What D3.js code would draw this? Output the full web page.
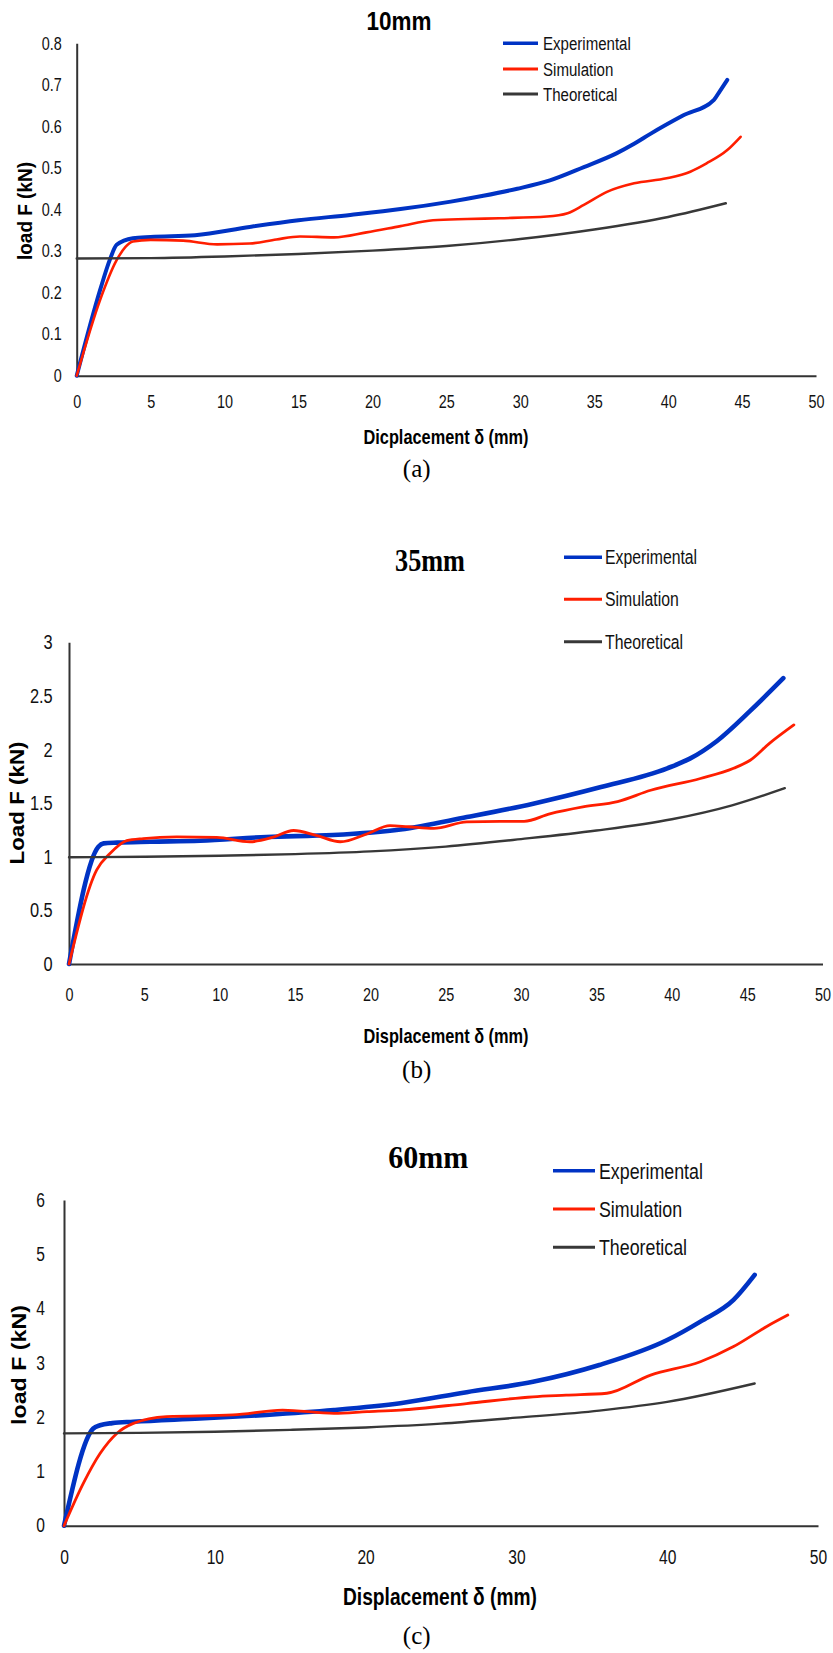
<!doctype html>
<html>
<head>
<meta charset="utf-8">
<script src="https://d3js.org/d3.v7.min.js"></script>
<style>
  body { margin: 0; background: #fff; }
</style>
</head>
<body>
<script>
// ---- data: [displacement mm, load kN] ----
var expA = [[0,0],[1.58,0.206],[2.25,0.28],[2.7,0.315],[3.8,0.331],[5,0.334],[8,0.338],[11.7,0.358],[15,0.374],[18.5,0.387],[21.9,0.401],[25.3,0.419],[27.5,0.433],[29.8,0.45],[32,0.47],[34.3,0.502],[36.5,0.535],[37.7,0.558],[38.8,0.582],[41,0.626],[43.1,0.664],[43.5,0.685],[44,0.712]];
var simA = [[0,0],[1.58,0.182],[2.7,0.278],[3.3,0.31],[3.8,0.323],[5,0.327],[7.2,0.325],[9.5,0.316],[11.7,0.318],[13.5,0.328],[15.1,0.335],[17.4,0.333],[19.6,0.345],[21.9,0.36],[24.1,0.374],[26.4,0.377],[28.6,0.379],[31.8,0.383],[33.2,0.391],[34.3,0.411],[35.9,0.443],[37.7,0.463],[39.9,0.475],[41.5,0.491],[42.6,0.511],[44,0.543],[44.9,0.575]];
var theoA = [[0,0.282],[5,0.283],[10,0.287],[15,0.293],[20,0.301],[25,0.312],[30,0.329],[35,0.352],[40,0.382],[43.9,0.415]];

var expB = [[0,0],[1.95,1.094],[2.3,1.125],[3.2,1.132],[5.4,1.14],[8.7,1.15],[13.1,1.185],[17.5,1.203],[22,1.255],[26.4,1.37],[30.8,1.495],[35.3,1.65],[39.7,1.825],[41.2,1.915],[43,2.08],[45.2,2.36],[47.4,2.665]];
var simB = [[0,0],[1.84,0.877],[2.72,1.03],[3.83,1.15],[4.93,1.17],[7.15,1.185],[9.8,1.18],[12,1.14],[13.5,1.18],[14.9,1.245],[16.4,1.2],[18,1.14],[19.8,1.215],[21.3,1.29],[22.5,1.28],[24.2,1.265],[26.4,1.325],[28.6,1.33],[30.2,1.33],[31.9,1.4],[34.1,1.465],[36.4,1.515],[38.6,1.62],[41.9,1.73],[44.1,1.825],[45.2,1.9],[46.5,2.06],[48.1,2.23]];
var theoB = [[0,0.995],[5,1],[10,1.01],[15,1.025],[20,1.05],[25,1.095],[30,1.165],[35,1.245],[40,1.35],[44,1.48],[47.5,1.64]];

var expC = [[0,0],[1.94,1.79],[2.39,1.85],[3.2,1.89],[4.6,1.915],[9,1.975],[13.4,2.04],[17.9,2.13],[22.3,2.255],[26.7,2.46],[31.1,2.65],[35.5,2.96],[40,3.42],[42.2,3.76],[44.4,4.16],[45.8,4.62]];
var simC = [[0,0],[1.28,0.78],[2.39,1.33],[3.5,1.7],[4.6,1.885],[6.8,2.01],[11.2,2.04],[14.5,2.13],[17.9,2.07],[20.1,2.1],[22.3,2.13],[26.7,2.25],[31.1,2.375],[33.3,2.405],[36,2.44],[38.9,2.775],[42.2,3.02],[44.4,3.3],[46.6,3.67],[48,3.88]];
var theoC = [[0,1.7],[5,1.71],[10,1.73],[15,1.765],[20,1.81],[25,1.88],[30,1.99],[35.5,2.12],[40,2.28],[45.8,2.62]];

var seriesNames = ["Experimental", "Simulation", "Theoretical"];
var xTicks5 = [0,5,10,15,20,25,30,35,40,45,50];
var xTicks10 = [0,10,20,30,40,50];
var yTicksA = [0,0.1,0.2,0.3,0.4,0.5,0.6,0.7,0.8];
var yTicksB = [0,0.5,1,1.5,2,2.5,3];
var yTicksC = [0,1,2,3,4,5,6];

var SANS = "'Liberation Sans', Arial, sans-serif";
var SERIF = "'Liberation Serif', 'Times New Roman', serif";
var colors = ["#0033c4", "#ff1e00", "#383838"];

var svg = d3.select("body").append("svg").attr("width", 833).attr("height", 1653);
svg.append("rect").attr("width", 833).attr("height", 1653).attr("fill", "#fff");

// picture is stretched vertically, so text gets squeezed sideways
function squeeze(sel, sx) {
	sel.each(function() {
		var t = d3.select(this);
		var x = +t.attr("x") || 0, y = +t.attr("y") || 0;
		t.attr("x", 0).attr("y", 0).attr("transform", "translate(" + x + "," + y + ") scale(" + sx + ",1)");
	});
}

var panels = [
	{ exp: expA, sim: simA, theo: theoA, ymax: 0.8, yticks: yTicksA, xticks: xTicks5, widths: [4, 2.6, 2.4],
	  x0: 76.7, x1: 816, y0: 375.7, y1: 43.3, xfs: 18, xpad: 19.6, yfs: 18, ypad: 15,
	  title: "10mm", tfont: SANS, tfs: 25, tx: 399, ty: 30, tlen: 65,
	  ylab: "load F (kN)", ylx: 31.5, yly: 211, ylfs: 20, yllen: 98,
	  xlab: "Dicplacement δ (mm)", xlx: 446, xly: 443.7, xlfs: 19.5, xllen: 165,
	  cap: "(a)", capy: 476.5,
	  lgx0: 503, lgx1: 538, lgtx: 543, lgy: [43.3, 69, 94], lgfs: 18.6 },
	{ exp: expB, sim: simB, theo: theoB, ymax: 3, yticks: yTicksB, xticks: xTicks5, widths: [4.6, 2.8, 2.4],
	  x0: 69, x1: 822.5, y0: 964, y1: 642.3, xfs: 18, xpad: 24.6, yfs: 20.5, ypad: 16.3,
	  title: "35mm", tfont: SERIF, tfs: 31, tx: 430, ty: 570.5, tlen: 70,
	  ylab: "Load F (kN)", ylx: 23.5, yly: 803, ylfs: 20, yllen: 123,
	  xlab: "Displacement δ (mm)", xlx: 446, xly: 1042.6, xlfs: 21, xllen: 165,
	  cap: "(b)", capy: 1078,
	  lgx0: 564, lgx1: 602, lgtx: 605, lgy: [557.3, 599.3, 641.7], lgfs: 19.5 },
	{ exp: expC, sim: simC, theo: theoC, ymax: 6, yticks: yTicksC, xticks: xTicks10, widths: [4.6, 2.8, 2.4],
	  x0: 64, x1: 818, y0: 1525.7, y1: 1200, xfs: 19.5, xpad: 24.2, yfs: 19.5, ypad: 19,
	  title: "60mm", tfont: SERIF, tfs: 31, tx: 428.3, ty: 1167.5, tlen: 80,
	  ylab: "load F (kN)", ylx: 25.6, yly: 1365, ylfs: 21, yllen: 120,
	  xlab: "Displacement δ (mm)", xlx: 440, xly: 1605, xlfs: 23, xllen: 194,
	  cap: "(c)", capy: 1644,
	  lgx0: 553, lgx1: 595, lgtx: 599, lgy: [1170.7, 1209, 1247.3], lgfs: 22 }
];

panels.forEach(function(p) {
	var x = d3.scaleLinear().domain([0, 50]).range([p.x0, p.x1]);
	var y = d3.scaleLinear().domain([0, p.ymax]).range([p.y0, p.y1]);
	var g = svg.append("g");

	var gx = g.append("g").attr("transform", "translate(0," + p.y0 + ")")
		.call(d3.axisBottom(x).tickValues(p.xticks).tickSize(0).tickSizeOuter(0).tickPadding(p.xpad).tickFormat(d3.format("~g")));
	gx.select(".domain").attr("stroke", "#333").attr("stroke-width", 2);
	gx.selectAll("text").attr("font-family", SANS).attr("font-size", p.xfs).attr("fill", "#111").call(squeeze, 0.8);

	var gy = g.append("g").attr("transform", "translate(" + p.x0 + ",0)")
		.call(d3.axisLeft(y).tickValues(p.yticks).tickSize(0).tickSizeOuter(0).tickPadding(p.ypad).tickFormat(d3.format("~g")));
	gy.select(".domain").attr("stroke", "#333").attr("stroke-width", 2);
	gy.selectAll("text").attr("font-family", SANS).attr("font-size", p.yfs).attr("fill", "#111").call(squeeze, 0.8);

	var line = d3.line().x(function(d) { return x(d[0]); }).y(function(d) { return y(d[1]); }).curve(d3.curveMonotoneX);
	[p.exp, p.sim, p.theo].forEach(function(s, i) {
		g.append("path").attr("d", line(s)).attr("fill", "none")
			.attr("stroke", colors[i]).attr("stroke-width", p.widths[i])
			.attr("stroke-linejoin", "round").attr("stroke-linecap", "round");
	});

	// title
	g.append("text").attr("x", p.tx).attr("y", p.ty).attr("text-anchor", "middle")
		.attr("font-family", p.tfont).attr("font-weight", "bold").attr("font-size", p.tfs)
		.attr("textLength", p.tlen).attr("lengthAdjust", "spacingAndGlyphs").text(p.title);

	// axis titles
	g.append("text").attr("transform", "translate(" + p.ylx + "," + p.yly + ") rotate(-90)")
		.attr("text-anchor", "middle").attr("font-family", SANS).attr("font-weight", "bold").attr("font-size", p.ylfs)
		.attr("textLength", p.yllen).attr("lengthAdjust", "spacingAndGlyphs").text(p.ylab);
	g.append("text").attr("x", p.xlx).attr("y", p.xly).attr("text-anchor", "middle")
		.attr("font-family", SANS).attr("font-weight", "bold").attr("font-size", p.xlfs)
		.attr("textLength", p.xllen).attr("lengthAdjust", "spacingAndGlyphs").text(p.xlab);

	// caption
	g.append("text").attr("x", 416.7).attr("y", p.capy).attr("text-anchor", "middle")
		.attr("font-family", SERIF).attr("font-size", 25).text(p.cap);

	// legend
	var lg = g.selectAll(".lg").data(seriesNames).enter().append("g");
	lg.append("line").attr("x1", p.lgx0).attr("x2", p.lgx1)
		.attr("y1", function(d, i) { return p.lgy[i]; }).attr("y2", function(d, i) { return p.lgy[i]; })
		.attr("stroke", function(d, i) { return colors[i]; }).attr("stroke-width", function(d, i) { return i == 0 ? 3.5 : 3; });
	lg.append("text").attr("x", p.lgtx).attr("y", function(d, i) { return p.lgy[i] + 0.358 * p.lgfs; })
		.attr("font-family", SANS).attr("font-size", p.lgfs).attr("fill", "#111")
		.text(function(d) { return d; }).call(squeeze, 0.81);
});
</script>
</body>
</html>
